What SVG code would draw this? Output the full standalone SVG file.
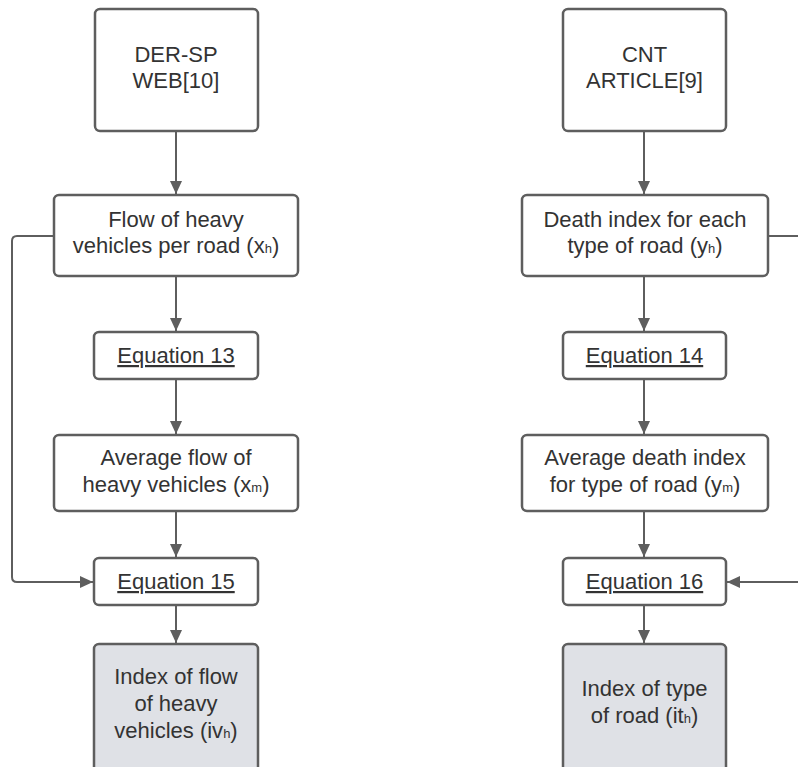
<svg xmlns="http://www.w3.org/2000/svg" width="798" height="767" viewBox="0 0 798 767">
<defs>
<style>
.box{fill:#ffffff;stroke:#5e5e5e;stroke-width:2.5}
.res{fill:#dfe1e6;stroke:#5e5e5e;stroke-width:2.5}
.t{font-family:"Liberation Sans",Arial,sans-serif;font-size:22px;fill:#333333;text-anchor:middle}
.sub{font-size:13px}
.u{text-decoration:underline}
.c{fill:none;stroke:#5e5e5e;stroke-width:2}
</style>
<marker id="ah" markerUnits="userSpaceOnUse" markerWidth="14" markerHeight="12" refX="13" refY="6" orient="auto">
<path d="M0,0 L13,6 L0,12 Z" fill="#5e5e5e"/>
</marker>
</defs>
<rect width="798" height="767" fill="#ffffff"/>
<g id="connectors">
<path class="c" d="M176,131 V194" marker-end="url(#ah)"/>
<path class="c" d="M176,276 V331" marker-end="url(#ah)"/>
<path class="c" d="M176,379 V434" marker-end="url(#ah)"/>
<path class="c" d="M176,511 V557" marker-end="url(#ah)"/>
<path class="c" d="M176,605 V643" marker-end="url(#ah)"/>
<path class="c" d="M54,236 H17 Q12,236 12,241 V577 Q12,582 17,582 H93" marker-end="url(#ah)"/>
<path class="c" d="M644,131 V194" marker-end="url(#ah)"/>
<path class="c" d="M644,276 V331" marker-end="url(#ah)"/>
<path class="c" d="M644,379 V434" marker-end="url(#ah)"/>
<path class="c" d="M644,511 V557" marker-end="url(#ah)"/>
<path class="c" d="M644,605 V643" marker-end="url(#ah)"/>
<path class="c" d="M768,236 H800"/>
<path class="c" d="M800,582 H727" marker-end="url(#ah)"/>
</g>
<g id="der-sp">
<rect class="box" x="95" y="9" width="163" height="122" rx="5"/>
<text class="t" x="176" y="62">DER-SP</text>
<text class="t" x="176" y="88">WEB[10]</text>
</g>
<g id="flow-heavy">
<rect class="box" x="54" y="195" width="244" height="81" rx="5"/>
<text class="t" x="176" y="227">Flow of heavy</text>
<text class="t" x="176" y="253">vehicles per road (x<tspan class="sub">h</tspan>)</text>
</g>
<g id="eq13">
<rect class="box" x="94" y="332" width="164" height="47" rx="5"/>
<text class="t u" x="176" y="363">Equation 13</text>
</g>
<g id="avg-flow">
<rect class="box" x="54" y="435" width="244" height="76" rx="5"/>
<text class="t" x="176" y="465">Average flow of</text>
<text class="t" x="176" y="492">heavy vehicles (x<tspan class="sub">m</tspan>)</text>
</g>
<g id="eq15">
<rect class="box" x="94" y="558" width="164" height="47" rx="5"/>
<text class="t u" x="176" y="589">Equation 15</text>
</g>
<g id="index-flow">
<rect class="res" x="94" y="644" width="164" height="135" rx="5"/>
<text class="t" x="176" y="684">Index of flow</text>
<text class="t" x="176" y="711">of heavy</text>
<text class="t" x="176" y="738">vehicles (iv<tspan class="sub">h</tspan>)</text>
</g>
<g id="cnt">
<rect class="box" x="563" y="9" width="163" height="122" rx="5"/>
<text class="t" x="644.5" y="62">CNT</text>
<text class="t" x="644.5" y="88">ARTICLE[9]</text>
</g>
<g id="death-index">
<rect class="box" x="522" y="195" width="246" height="81" rx="5"/>
<text class="t" x="645" y="227">Death index for each</text>
<text class="t" x="645" y="253">type of road (y<tspan class="sub">h</tspan>)</text>
</g>
<g id="eq14">
<rect class="box" x="563" y="332" width="163" height="47" rx="5"/>
<text class="t u" x="644.5" y="363">Equation 14</text>
</g>
<g id="avg-death">
<rect class="box" x="522" y="435" width="246" height="76" rx="5"/>
<text class="t" x="645" y="465">Average death index</text>
<text class="t" x="645" y="492">for type of road (y<tspan class="sub">m</tspan>)</text>
</g>
<g id="eq16">
<rect class="box" x="563" y="558" width="163" height="47" rx="5"/>
<text class="t u" x="644.5" y="589">Equation 16</text>
</g>
<g id="index-type">
<rect class="res" x="563" y="644" width="163" height="135" rx="5"/>
<text class="t" x="644.5" y="696">Index of type</text>
<text class="t" x="644.5" y="723">of road (it<tspan class="sub">h</tspan>)</text>
</g>
</svg>
